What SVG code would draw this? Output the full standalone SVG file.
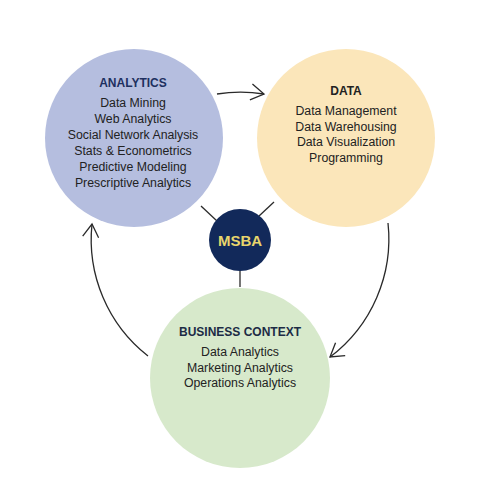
<svg xmlns="http://www.w3.org/2000/svg" width="480" height="480" viewBox="0 0 480 480">
<defs>
<style>
text{font-family:"Liberation Sans",Arial,sans-serif;text-anchor:middle}
.t{font-weight:bold;font-size:12px}
.b{font-size:12.3px;fill:#222}
.c{fill:none;stroke:#2a2a2a;stroke-width:1.3}
</style>
<marker id="ah" markerUnits="userSpaceOnUse" markerWidth="30" markerHeight="30" refX="15" refY="15" orient="auto" overflow="visible">
<path d="M2,7 L15,15 L2,23" fill="none" stroke="#2a2a2a" stroke-width="1.3"/>
</marker>
</defs>
<rect width="480" height="480" fill="#fff"/>
<g id="connectors">
<path class="c" d="M217,94 A148,148 0 0 1 264,94" marker-end="url(#ah)"/>
<path class="c" d="M388,223 A148,148 0 0 1 330,357" marker-end="url(#ah)"/>
<path class="c" d="M148,356 A148,148 0 0 1 92,224" marker-end="url(#ah)"/>
<line class="c" x1="201" y1="206" x2="217" y2="221"/>
<line class="c" x1="274" y1="202" x2="259" y2="216"/>
<line class="c" x1="240" y1="270" x2="240" y2="287"/>
</g>
<g id="analytics">
<circle cx="134" cy="138" r="89" fill="#b5bedf"/>
<text class="t" x="133" y="87" fill="#1e3060">ANALYTICS</text>
<text class="b" x="133" y="107">Data Mining</text>
<text class="b" x="133" y="123">Web Analytics</text>
<text class="b" x="133" y="139">Social Network Analysis</text>
<text class="b" x="133" y="155">Stats &amp; Econometrics</text>
<text class="b" x="133" y="171">Predictive Modeling</text>
<text class="b" x="133" y="187">Prescriptive Analytics</text>
</g>
<g id="data">
<circle cx="346" cy="138" r="89" fill="#fbe6ba"/>
<text class="t" x="346" y="95" fill="#222">DATA</text>
<text class="b" x="346" y="115">Data Management</text>
<text class="b" x="346" y="131">Data Warehousing</text>
<text class="b" x="346" y="146">Data Visualization</text>
<text class="b" x="346" y="162">Programming</text>
</g>
<g id="business">
<circle cx="240" cy="378" r="90" fill="#d7e9cb"/>
<text class="t" x="240" y="336" fill="#1c2b45">BUSINESS CONTEXT</text>
<text class="b" x="240" y="356">Data Analytics</text>
<text class="b" x="240" y="372">Marketing Analytics</text>
<text class="b" x="240" y="387">Operations Analytics</text>
</g>
<g id="msba">
<circle cx="240" cy="240" r="31" fill="#12295a"/>
<text x="240" y="245.5" font-weight="bold" font-size="15px" fill="#e8d56c">MSBA</text>
</g>
</svg>
